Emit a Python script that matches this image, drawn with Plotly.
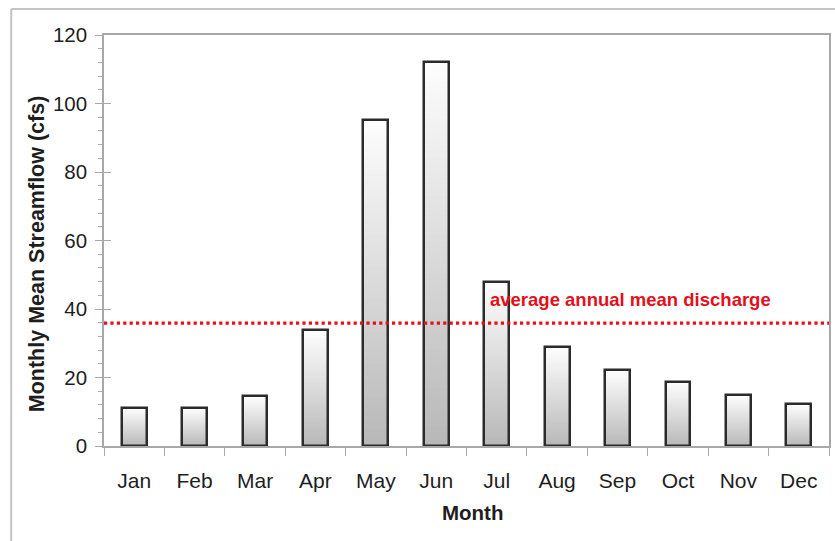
import plotly.graph_objects as go

# Monthly mean streamflow (cfs)
months = ["Jan", "Feb", "Mar", "Apr", "May", "Jun",
          "Jul", "Aug", "Sep", "Oct", "Nov", "Dec"]
flow = [11.2, 11.2, 14.5, 33.8, 95.2, 112.2, 48.0, 28.8, 22.2, 18.6, 15.0, 12.2]
mean_discharge = 35.9
mean_label = "average annual mean discharge"

y_ticks = [0, 20, 40, 60, 80, 100, 120]
x_title = "Month"
y_title = "Monthly Mean Streamflow (cfs)"

FONT = "Liberation Sans, Arial, sans-serif"
BAR_W = 0.41
N_SLICES = 60
TOP_GRAY, BOTTOM_GRAY = 253, 184

fig = go.Figure()

# vertical gradient fill: each bar is split into thin slices, light at top, grey at bottom
for i in range(N_SLICES):
    t = i / (N_SLICES - 1)
    g = round(BOTTOM_GRAY + (TOP_GRAY - BOTTOM_GRAY) * t)
    fig.add_trace(go.Bar(
        x=months,
        y=[v / N_SLICES for v in flow],
        base=[v * i / N_SLICES for v in flow],
        width=BAR_W,
        marker=dict(color=f"rgb({g},{g},{g})", line=dict(width=0)),
        showlegend=False, hoverinfo="skip",
    ))

# bar outlines
fig.add_trace(go.Bar(
    x=months, y=flow, width=BAR_W,
    marker=dict(color="rgba(0,0,0,0)", line=dict(color="#2b2b2b", width=2.5)),
    showlegend=False,
))

# inner half of the major y ticks
fig.add_trace(go.Scatter(x=[months[0]], y=[0], yaxis="y2", mode="markers",
                         marker=dict(opacity=0), showlegend=False, hoverinfo="skip"))

fig.add_shape(type="line", xref="paper", x0=0, x1=1, yref="y",
              y0=mean_discharge, y1=mean_discharge,
              line=dict(color="#e3101c", width=3.2, dash="dot"))

fig.add_annotation(text=f"<b>{mean_label}</b>", xref="paper", x=0.5296,
                   xanchor="left", yref="y", y=mean_discharge + 6.8, yanchor="middle",
                   showarrow=False, font=dict(family=FONT, size=18.5, color="#e3101c"))

# axis titles
fig.add_annotation(text=f"<b>{x_title}</b>", xref="paper", yref="paper",
                   x=0.5076, y=-0.163, xanchor="center", yanchor="middle",
                   showarrow=False, font=dict(family=FONT, size=20.5, color="#1e1e1e"))
fig.add_annotation(text=f"<b>{y_title}</b>", xref="paper", yref="paper",
                   x=-0.0922, y=0.467, xanchor="center", yanchor="middle", textangle=-90,
                   showarrow=False, font=dict(family=FONT, size=21.5, color="#1e1e1e"))

# outer frame (top and left edges)
fig.add_shape(type="line", xref="paper", yref="paper", x0=-0.128, x1=1.01,
              y0=1.0633, y1=1.0633, line=dict(color="#c4c4c4", width=2))
fig.add_shape(type="line", xref="paper", yref="paper", x0=-0.128, x1=-0.128,
              y0=-0.25, y1=1.0633, line=dict(color="#c4c4c4", width=2))

fig.update_layout(
    width=835, height=541,
    margin=dict(l=104, r=4, t=35, b=95),
    paper_bgcolor="white", plot_bgcolor="white",
    barmode="overlay", bargap=0,
    font=dict(family=FONT, color="#1e1e1e"),
    xaxis=dict(
        type="category", range=[-0.5, 11.5],
        tickson="boundaries", ticks="outside", ticklen=8, tickcolor="#a8a8a8",
        showline=True, linecolor="#a8a8a8", linewidth=1.5, mirror=True,
        showgrid=False, zeroline=False,
        tickfont=dict(size=21), ticklabelstandoff=15,
    ),
    yaxis=dict(
        range=[0, 120], tickvals=y_ticks, ticks="outside", ticklen=7,
        tickcolor="#a8a8a8",
        minor=dict(dtick=4, ticks="outside", ticklen=4, tickcolor="#a8a8a8"),
        showline=True, linecolor="#a8a8a8", linewidth=1.5, mirror=True,
        showgrid=False, zeroline=False,
        tickfont=dict(size=20.5), ticklabelstandoff=4,
    ),
    yaxis2=dict(
        overlaying="y", side="left", range=[0, 120], tickvals=y_ticks,
        ticks="inside", ticklen=7, tickcolor="#a8a8a8", showticklabels=False,
        showline=False, showgrid=False, zeroline=False,
    ),
)

fig.write_html("out.html")
